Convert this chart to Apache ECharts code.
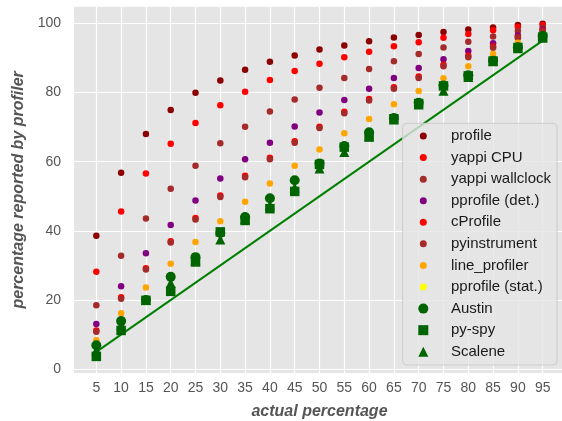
<!DOCTYPE html>
<html><head><meta charset="utf-8">
<script src="https://cdn.jsdelivr.net/npm/echarts@6/dist/echarts.min.js"></script>
<style>html,body{margin:0;padding:0;background:#fff}#c{width:562px;height:421px}</style>
</head><body><div id="c"></div>
<script>
const actual = [5,10,15,20,25,30,35,40,45,50,55,60,65,70,75,80,85,90,95];
const xTickLabels = [5,10,15,20,25,30,35,40,45,50,55,60,65,70,75,80,85,90,95];
const yTickLabels = [0,20,40,60,80,100];

const profile       = [38.6,56.8,68.0,74.9,79.9,83.5,86.6,88.9,90.7,92.4,93.6,94.8,95.9,96.6,97.5,98.2,98.8,99.5,99.9];
const yappiCPU      = [28.2,45.6,56.6,65.2,71.2,76.3,80.2,83.6,86.2,88.3,90.2,91.8,93.4,94.5,95.8,96.9,98.0,98.9,99.5];
const yappiWall     = [18.5,32.8,43.6,52.2,58.8,65.3,70.1,74.5,78.0,81.4,84.2,86.8,89.0,91.1,93.0,94.7,96.2,97.8,98.7];
const pprofileDet   = [13.1,24.0,33.5,41.7,48.8,55.1,60.7,65.5,70.2,74.2,77.8,81.1,84.2,87.1,89.6,92.0,94.2,96.5,98.2];
const cProfile      = [11.2,20.8,29.2,37.0,43.7,50.2,55.9,61.1,65.9,70.1,74.4,78.1,81.5,84.6,88.0,90.6,93.3,96.0,97.9];
const pyinstrument  = [10.8,20.4,28.8,36.6,43.3,49.8,55.5,60.7,65.5,69.7,74.0,77.7,81.1,84.2,87.6,90.2,92.9,95.8,97.7];
const lineProfiler  = [8.4,16.2,23.6,30.5,36.8,42.8,48.4,53.7,58.8,63.5,68.2,72.3,76.6,80.4,84.1,87.6,91.1,94.4,96.5];
const pprofileStat  = [6.8,13.8,19.9,26.6,32.8,39.2,44.2,49.2,54.5,59.3,64.3,68.5,72.5,76.9,81.9,84.9,89.1,93.0,96.2];
const austin        = [6.9,13.9,20.0,26.7,32.4,39.4,44.0,49.4,54.6,59.5,64.5,68.5,72.6,77.0,82.0,85.0,89.2,93.1,96.3];
const pyspy         = [3.7,11.2,19.9,22.5,31.0,39.7,43.0,46.4,51.4,59.2,64.2,67.1,72.4,76.8,81.9,84.8,89.1,93.0,96.0];
const scalene       = [5.5,12.7,20.0,24.9,31.5,37.5,43.5,47.5,52.5,58.0,62.8,67.5,72.2,76.5,80.5,84.5,89.0,92.8,95.8];

const dotNames  = ['profile','yappi CPU','yappi wallclock','pprofile (det.)','cProfile','pyinstrument','line_profiler','pprofile (stat.)'];
const dotValues = [profile, yappiCPU, yappiWall, pprofileDet, cProfile, pyinstrument, lineProfiler, pprofileStat];
const dotColors = ['#8B0000','#FF0000','#A52A2A','#800080','#FF0000','#A52A2A','#FFA500','#FFFF00'];
const bigNames   = ['Austin','py-spy','Scalene'];
const bigValues  = [austin, pyspy, scalene];
const bigSymbols = ['circle','rect','triangle'];
const bigSizes   = [10, 9.5, 10];

const FONT = 'Liberation Sans, Arial, sans-serif';
const pairs = vals => actual.map((x, i) => [x, vals[i]]);

const series = [{
  type: 'line', name: 'ideal', silent: true, symbol: 'none', z: 1,
  data: [[actual[0], actual[0]], [actual[actual.length-1], actual[actual.length-1]]],
  lineStyle: {color: '#008000', width: 2}
}];
dotNames.forEach((n, i) => series.push({
  type: 'scatter', name: n, data: pairs(dotValues[i]), symbol: 'circle', symbolSize: 6.5,
  itemStyle: {color: dotColors[i], opacity: 1}, z: 2
}));
bigNames.forEach((n, i) => series.push({
  type: 'scatter', name: n, data: pairs(bigValues[i]), symbol: bigSymbols[i], symbolSize: bigSizes[i],
  itemStyle: {color: '#006400', opacity: 1}, z: 3
}));

const chart = echarts.init(document.getElementById('c'), null, {renderer: 'canvas'});
chart.setOption({
  animation: false,
  textStyle: {fontFamily: FONT},
  grid: {left: 74, top: 6.7, width: 491, height: 366.3, show: true, backgroundColor: '#E5E5E5', borderWidth: 0,
         containLabel: false, outerBoundsMode: 'none'},
  xAxis: {
    type: 'value', min: 0.5, max: 99.5,
    axisLine: {show: false},
    axisTick: {show: false, customValues: xTickLabels},
    axisLabel: {customValues: xTickLabels, fontSize: 14, color: '#555', margin: 8, fontFamily: FONT},
    splitLine: {show: true, lineStyle: {color: '#ffffff', width: 1.2}},
    name: 'actual percentage', nameLocation: 'middle', nameGap: 31,
    nameTextStyle: {fontSize: 16, fontWeight: 'bold', fontStyle: 'italic', color: '#555', fontFamily: FONT}
  },
  yAxis: {
    type: 'value', min: -1.1, max: 104.8,
    axisLine: {show: false},
    axisTick: {show: false, customValues: yTickLabels},
    axisLabel: {customValues: yTickLabels, fontSize: 14, color: '#555', margin: 13, fontFamily: FONT},
    splitLine: {show: true, lineStyle: {color: '#ffffff', width: 1.2}},
    name: 'percentage reported by profiler', nameLocation: 'middle', nameGap: 34,
    nameTextStyle: {fontSize: 16, fontWeight: 'bold', fontStyle: 'italic', color: '#555', fontFamily: FONT}
  },
  legend: [{
    data: dotNames, orient: 'vertical', left: 402.7, top: 123.3,
    itemWidth: 7, itemHeight: 7, itemGap: 6.57,
    padding: [5.2, 6, 70.5, 17.1],
    backgroundColor: 'rgba(229,229,229,0.8)', borderColor: '#cccccc', borderWidth: 1, borderRadius: 4,
    selectedMode: false,
    textStyle: {fontSize: 15, color: '#1a1a1a', fontFamily: FONT, padding: [0, 0, 0, 19.2]}
  }, {
    data: bigNames, orient: 'vertical', left: 418.3, top: 301.1,
    itemWidth: 10, itemHeight: 10, itemGap: 6.57, padding: 0,
    selectedMode: false,
    textStyle: {fontSize: 15, color: '#1a1a1a', fontFamily: FONT, padding: [0, 0, 0, 17.7]}
  }],
  series: series
});
</script></body></html>
